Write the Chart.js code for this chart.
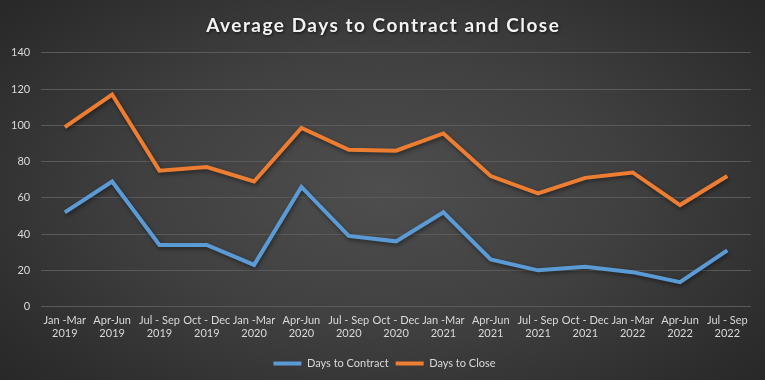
<!DOCTYPE html>
<html>
<head>
<meta charset="utf-8">
<script src="https://cdn.jsdelivr.net/npm/chart.js@4"></script>
<style>
    html, body { margin: 0; padding: 0; }
    body { width: 765px; height: 380px; overflow: hidden; }
    .wrap {
        width: 765px; height: 380px; position: relative;
        background: radial-gradient(ellipse 70% 80% at 50% 50%, #4e4e4e 0%, #404040 45%, #2c2c2c 85%, #262626 100%);
    }
</style>
</head>
<body>
<div class="wrap"><canvas id="myChart" width="765" height="380"></canvas></div>
<script>
const quarters = [
    ['Jan -Mar', '2019'], ['Apr-Jun', '2019'], ['Jul - Sep', '2019'], ['Oct - Dec', '2019'],
    ['Jan -Mar', '2020'], ['Apr-Jun', '2020'], ['Jul - Sep', '2020'], ['Oct - Dec', '2020'],
    ['Jan -Mar', '2021'], ['Apr-Jun', '2021'], ['Jul - Sep', '2021'], ['Oct - Dec', '2021'],
    ['Jan -Mar', '2022'], ['Apr-Jun', '2022'], ['Jul - Sep', '2022']
];
const daysToContract = [52, 69, 34, 34, 23, 66, 39, 36, 52, 26, 20, 22, 19, 13.5, 31];
const daysToClose = [99, 117, 75, 77, 69, 98.5, 86.5, 86, 95.5, 72, 62.5, 71, 74, 56, 72];
const yTicks = [0, 20, 40, 60, 80, 100, 120, 140];
const chartTitle = 'Average Days to Contract and Close';

const lineShadow = {
    id: 'lineShadow',
    beforeDatasetsDraw(chart) {
        const ctx = chart.ctx;
        ctx.save();
        ctx.shadowColor = 'rgba(0,0,0,0.45)';
        ctx.shadowBlur = 4;
        ctx.shadowOffsetX = 1;
        ctx.shadowOffsetY = 2;
    },
    afterDatasetsDraw(chart) {
        chart.ctx.restore();
    }
};

// title drawn by hand so it can get letter spacing + shadow
const spacedTitle = {
    id: 'spacedTitle',
    afterLayout(chart) {
        // nudge the legend a bit to the right, like the original
        chart.legend.left += 18;
    },
    afterDraw(chart) {
        const t = chart.titleBlock;
        const ctx = chart.ctx;
        ctx.save();
        ctx.font = 'bold 19px Lato';
        ctx.letterSpacing = '1.5px';
        ctx.fillStyle = '#f2f2f2';
        ctx.textAlign = 'center';
        ctx.textBaseline = 'middle';
        ctx.shadowColor = 'rgba(0,0,0,0.7)';
        ctx.shadowBlur = 3;
        ctx.shadowOffsetX = 1;
        ctx.shadowOffsetY = 1;
        ctx.fillText(chartTitle, chart.width / 2 + 0.75, (t.top + t.bottom) / 2 - 5);
        ctx.restore();
    }
};

document.addEventListener('DOMContentLoaded', () => {
    const ctx = document.getElementById('myChart').getContext('2d');

    new Chart(ctx, {
        type: 'line',
        data: {
            labels: quarters,
            datasets: [{
                label: 'Days to Contract',
                data: daysToContract,
                borderColor: '#5b9bd5',
                backgroundColor: '#5b9bd5',
                borderWidth: 4,
                pointRadius: 0,
                fill: false,
                tension: 0
            }, {
                label: 'Days to Close',
                data: daysToClose,
                borderColor: '#ed7d31',
                backgroundColor: '#ed7d31',
                borderWidth: 4,
                pointRadius: 0,
                fill: false,
                tension: 0
            }]
        },
        options: {
            responsive: false,
            animation: false,
            layout: { padding: { left: 0, right: 14, top: 8, bottom: 1 } },
            plugins: {
                title: {
                    display: true,
                    text: chartTitle,
                    color: 'rgba(0,0,0,0)',
                    font: { family: 'Lato', size: 19, weight: 'bold' },
                    padding: { top: 7, bottom: 15 }
                },
                legend: {
                    position: 'bottom',
                    labels: {
                        color: '#d9d9d9',
                        font: { family: 'Lato', size: 11 },
                        usePointStyle: true,
                        pointStyleWidth: 28,
                        pointStyle: 'line',
                        boxHeight: 4,
                        padding: 7
                    }
                },
                tooltip: { enabled: false }
            },
            scales: {
                x: {
                    offset: true,
                    grid: { display: false },
                    border: { display: false },
                    afterFit: (scale) => { scale.height += 12; },
                    ticks: {
                        color: '#d9d9d9',
                        font: { family: 'Lato', size: 11 },
                        maxRotation: 0,
                        autoSkip: false,
                        padding: -1
                    }
                },
                y: {
                    min: 0,
                    max: 140,
                    afterBuildTicks: (axis) => { axis.ticks = yTicks.map(v => ({ value: v })); },
                    grid: { color: '#5a5a5a', lineWidth: 1, drawTicks: false },
                    border: { display: false },
                    ticks: {
                        color: '#d9d9d9',
                        font: { family: 'Lato', size: 11 },
                        padding: 11
                    }
                }
            }
        },
        plugins: [lineShadow, spacedTitle]
    });
});
</script>
</body>
</html>
